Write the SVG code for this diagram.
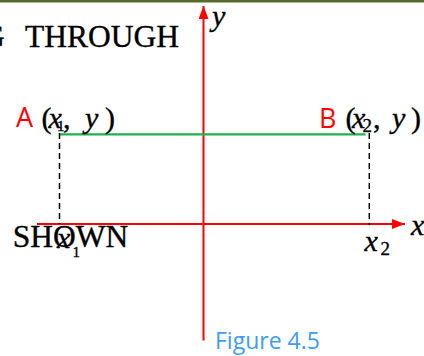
<svg xmlns="http://www.w3.org/2000/svg" width="424" height="356" viewBox="0 0 424 356">
<style>
.serif{font-family:"Liberation Serif","Times New Roman",serif;fill:#000;stroke:#000;stroke-width:0.35}
.it{font-style:italic}
.red{font-family:"Open Sans","Liberation Sans",sans-serif;fill:#ff0000;font-size:27px}
.axis{stroke:#ff0000;stroke-width:2;fill:none}
.dash{stroke:#000;stroke-width:1.5;stroke-dasharray:6 4;fill:none}
</style>
<defs>
<marker id="arr" markerWidth="13" markerHeight="10" refX="13" refY="5" orient="auto" markerUnits="userSpaceOnUse">
<path d="M0,0 L13,5 L0,10 z" fill="#ff0000"/>
</marker>
</defs>
<rect width="424" height="356" fill="#fff"/>
<rect x="0" y="0" width="424" height="2.5" fill="#586a2b"/>
<g id="background-text" class="serif" font-size="31.5">
<text x="-18" y="46.7">G<tspan x="25">THROUGH</tspan></text>
<text x="12.7" y="246.7">SHOWN</text>
</g>
<g id="connectors">
<line class="axis" x1="37" y1="224" x2="405" y2="224" marker-end="url(#arr)"/>
<line class="axis" x1="203.5" y1="340.5" x2="203.5" y2="6" marker-end="url(#arr)"/>
<line x1="60" y1="134.3" x2="365.5" y2="134.3" stroke="#1fb04c" stroke-width="2.2"/>
<line class="dash" x1="59.5" y1="133" x2="59.5" y2="224"/>
<line class="dash" x1="369.3" y1="133" x2="369.3" y2="225"/>
</g>
<g id="axis-labels" class="serif it" font-size="30">
<text x="411" y="235">x</text>
<text x="212" y="26">y</text>
</g>
<g id="pointA">
<text class="red" x="16" y="127">A</text>
<text class="serif" font-size="30" y="127.5"><tspan x="41.5">(</tspan><tspan x="48.5" class="it">x</tspan><tspan x="57" y="131" font-size="15">1</tspan><tspan x="63" y="127.5">,</tspan><tspan x="85" class="it">y</tspan><tspan x="105">)</tspan></text>
</g>
<g id="pointB">
<text class="red" x="319" y="128.3">B</text>
<text class="serif" font-size="30" y="128"><tspan x="345.5">(</tspan><tspan x="352" class="it">x</tspan><tspan x="362.5" y="132" font-size="19">2</tspan><tspan x="373" y="128">,</tspan><tspan x="392" class="it">y</tspan><tspan x="411">)</tspan></text>
</g>
<g id="tick-x1">
<text class="serif" font-size="30" y="248"><tspan x="57" class="it">x</tspan><tspan x="72.5" y="256.5" font-size="15">1</tspan></text>
</g>
<g id="tick-x2">
<text class="serif" font-size="30" y="250.5"><tspan x="364.5" class="it">x</tspan><tspan x="380.5" y="255" font-size="19">2</tspan></text>
</g>
<g id="caption">
<text x="215" y="349" font-family="'Open Sans','Liberation Sans',sans-serif" font-size="23" fill="#3f9cf2">Figure 4.5</text>
</g>
</svg>
